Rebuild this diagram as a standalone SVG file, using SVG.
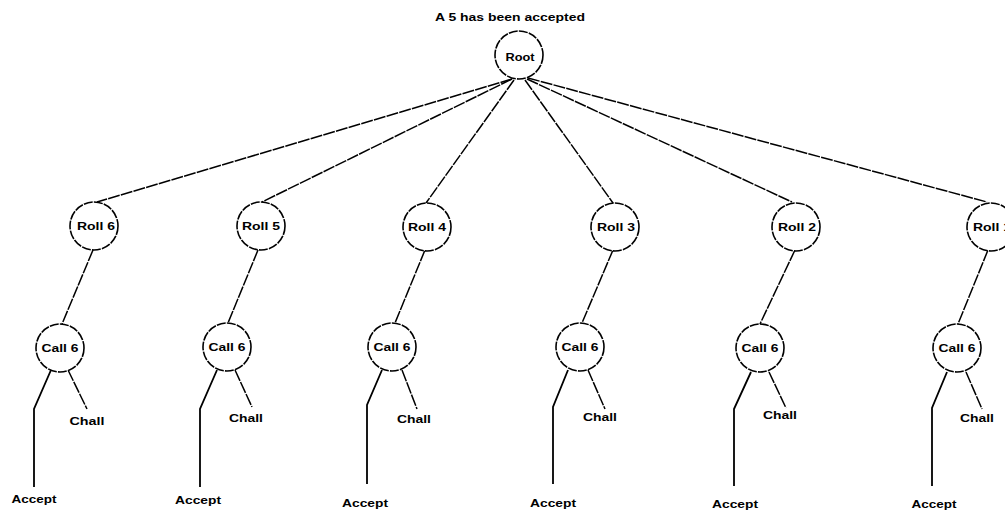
<svg xmlns="http://www.w3.org/2000/svg" width="1005" height="511" viewBox="0 0 1005 511">
<style>
.n{fill:#fff;stroke:#000;stroke-width:1.6;stroke-dasharray:9 1.2}
.t{font-family:"Liberation Sans",Arial,sans-serif;font-weight:bold;font-size:11px;fill:#000;text-anchor:middle}
.e{stroke:#000;stroke-width:1.5;fill:none;stroke-dasharray:12 1.2}
.s{stroke:#000;stroke-width:1.8;fill:none}
</style>
<rect width="1005" height="511" fill="#fff"/>
<text class="t" x="510" y="21" textLength="150" lengthAdjust="spacingAndGlyphs">A 5 has been accepted</text>
<g id="connectors">
<line class="e" x1="512" y1="79" x2="97" y2="202"/>
<line class="e" x1="512" y1="79" x2="262" y2="202"/>
<line class="e" x1="514" y1="80" x2="426" y2="203"/>
<line class="e" x1="525" y1="80" x2="613" y2="203"/>
<line class="e" x1="527" y1="79" x2="792" y2="202"/>
<line class="e" x1="528" y1="78" x2="987" y2="202"/>
<line class="e" x1="93" y1="250" x2="62" y2="324"/>
<line class="e" x1="258" y1="250" x2="228" y2="323"/>
<line class="e" x1="425" y1="250" x2="395" y2="323"/>
<line class="e" x1="613" y1="250" x2="582" y2="323"/>
<line class="e" x1="795" y1="250" x2="760" y2="324"/>
<line class="e" x1="988" y1="250" x2="958" y2="324"/>
<path class="s" d="M51 370 L34 409 L34 487"/>
<path class="e" d="M68 370 L87 409"/>
<path class="s" d="M217 370 L200 409 L200 487"/>
<path class="e" d="M235 370 L252 407"/>
<path class="s" d="M382 370 L367 405 L367 484"/>
<path class="e" d="M402 370 L417 409"/>
<path class="s" d="M568 370 L553 407 L553 484"/>
<path class="e" d="M588 370 L605 409"/>
<path class="s" d="M751 372 L734 409 L734 486"/>
<path class="e" d="M769 372 L786 408"/>
<path class="s" d="M947 372 L932 408 L932 486"/>
<path class="e" d="M966 372 L982 409"/>
</g>
<g id="root"><circle class="n" cx="519" cy="55" r="24"/><text class="t" x="520" y="61" textLength="29" lengthAdjust="spacingAndGlyphs">Root</text></g>
<g id="roll6"><circle class="n" cx="94" cy="226" r="24"/><text class="t" x="96" y="230" textLength="38" lengthAdjust="spacingAndGlyphs">Roll 6</text></g>
<g id="roll5"><circle class="n" cx="261" cy="226" r="24"/><text class="t" x="261" y="230" textLength="38" lengthAdjust="spacingAndGlyphs">Roll 5</text></g>
<g id="roll4"><circle class="n" cx="427" cy="227" r="24"/><text class="t" x="427" y="231" textLength="38" lengthAdjust="spacingAndGlyphs">Roll 4</text></g>
<g id="roll3"><circle class="n" cx="615" cy="227" r="24"/><text class="t" x="616" y="231" textLength="38" lengthAdjust="spacingAndGlyphs">Roll 3</text></g>
<g id="roll2"><circle class="n" cx="796" cy="227" r="24"/><text class="t" x="797" y="231" textLength="38" lengthAdjust="spacingAndGlyphs">Roll 2</text></g>
<g id="roll1"><circle class="n" cx="991" cy="227" r="24"/><text class="t" x="992" y="231" textLength="38" lengthAdjust="spacingAndGlyphs">Roll 1</text></g>
<g id="call1"><circle class="n" cx="60" cy="348" r="24"/><text class="t" x="60" y="352" textLength="37" lengthAdjust="spacingAndGlyphs">Call 6</text></g>
<g id="call2"><circle class="n" cx="227" cy="347" r="24"/><text class="t" x="227" y="351" textLength="37" lengthAdjust="spacingAndGlyphs">Call 6</text></g>
<g id="call3"><circle class="n" cx="392" cy="347" r="24"/><text class="t" x="392" y="351" textLength="37" lengthAdjust="spacingAndGlyphs">Call 6</text></g>
<g id="call4"><circle class="n" cx="580" cy="347" r="24"/><text class="t" x="580" y="351" textLength="37" lengthAdjust="spacingAndGlyphs">Call 6</text></g>
<g id="call5"><circle class="n" cx="760" cy="348" r="24"/><text class="t" x="760" y="352" textLength="37" lengthAdjust="spacingAndGlyphs">Call 6</text></g>
<g id="call6"><circle class="n" cx="957" cy="348" r="24"/><text class="t" x="957" y="352" textLength="37" lengthAdjust="spacingAndGlyphs">Call 6</text></g>
<g id="chall1"><text class="t" x="87" y="425" textLength="35" lengthAdjust="spacingAndGlyphs">Chall</text></g>
<g id="chall2"><text class="t" x="246" y="422" textLength="34" lengthAdjust="spacingAndGlyphs">Chall</text></g>
<g id="chall3"><text class="t" x="414" y="423" textLength="34" lengthAdjust="spacingAndGlyphs">Chall</text></g>
<g id="chall4"><text class="t" x="600" y="421" textLength="34" lengthAdjust="spacingAndGlyphs">Chall</text></g>
<g id="chall5"><text class="t" x="780" y="419" textLength="34" lengthAdjust="spacingAndGlyphs">Chall</text></g>
<g id="chall6"><text class="t" x="977" y="422" textLength="34" lengthAdjust="spacingAndGlyphs">Chall</text></g>
<g id="accept1"><text class="t" x="34" y="503" textLength="45" lengthAdjust="spacingAndGlyphs">Accept</text></g>
<g id="accept2"><text class="t" x="198" y="504" textLength="46" lengthAdjust="spacingAndGlyphs">Accept</text></g>
<g id="accept3"><text class="t" x="365" y="507" textLength="46" lengthAdjust="spacingAndGlyphs">Accept</text></g>
<g id="accept4"><text class="t" x="553" y="507" textLength="46" lengthAdjust="spacingAndGlyphs">Accept</text></g>
<g id="accept5"><text class="t" x="735" y="508" textLength="46" lengthAdjust="spacingAndGlyphs">Accept</text></g>
<g id="accept6"><text class="t" x="934" y="508" textLength="45" lengthAdjust="spacingAndGlyphs">Accept</text></g>
</svg>
